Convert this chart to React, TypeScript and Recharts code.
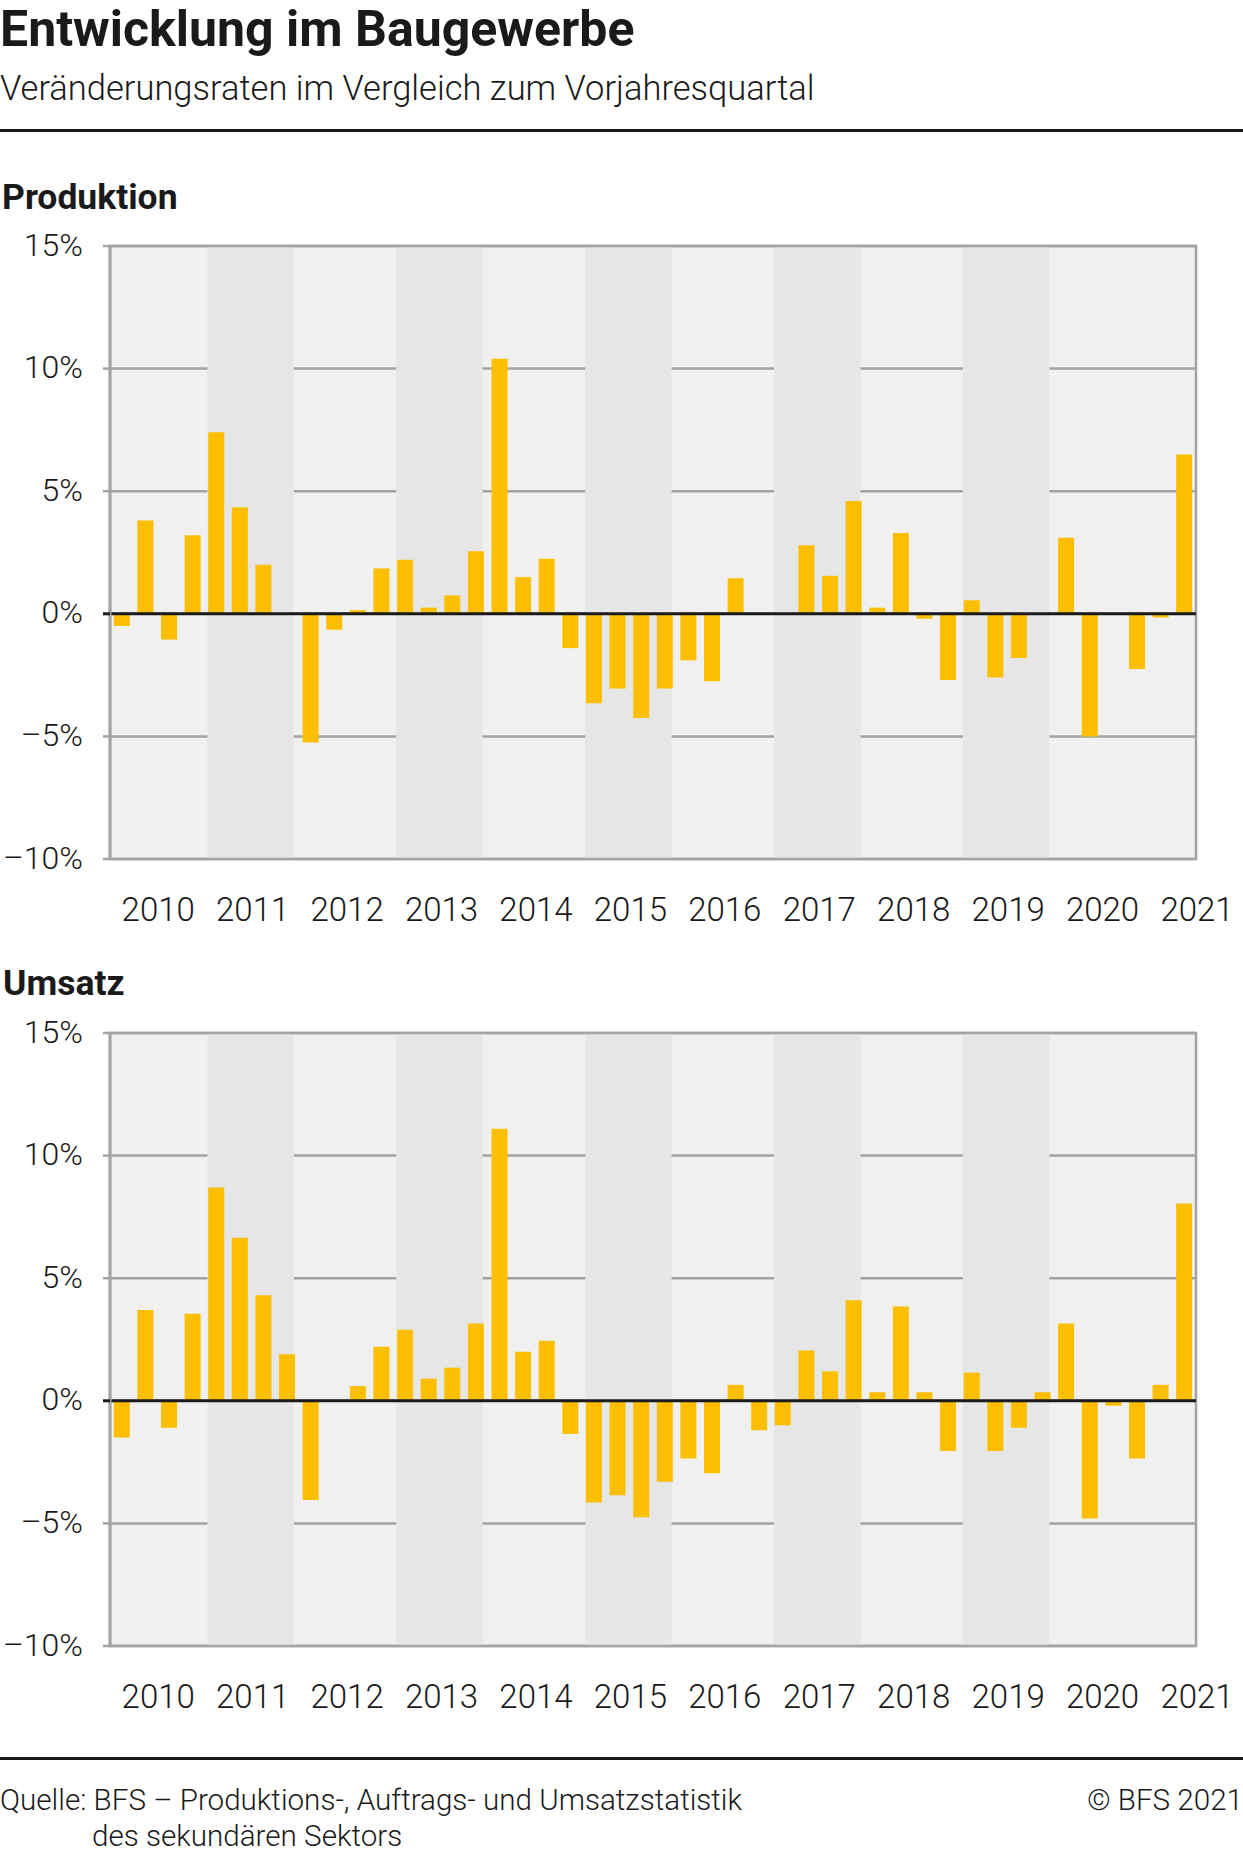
import React from 'react';
import {
  BarChart,
  Bar,
  XAxis,
  YAxis,
  CartesianGrid,
  ReferenceArea,
  ReferenceLine,
} from 'recharts';

// Quarterly change vs. same quarter of the previous year, 2010 Q1 – 2021 Q2
const years = ['2010', '2011', '2012', '2013', '2014', '2015', '2016', '2017', '2018', '2019', '2020', '2021'];
const quarterNames = ['Q1', 'Q2', 'Q3', 'Q4'];
const quarters = years.flatMap((y) => quarterNames.map((q) => `${y} ${q}`)).slice(0, 46);

// years drawn with the darker background band
const shadedYears = ['2011', '2013', '2015', '2017', '2019', '2021'];

const yTicks = [-10, -5, 0, 5, 10, 15];

const produktion = [
  -0.5, 3.8, -1.05, 3.2,
  7.4, 4.35, 2.0, 0,
  -5.25, -0.65, 0.15, 1.85,
  2.2, 0.25, 0.75, 2.55,
  10.4, 1.5, 2.25, -1.4,
  -3.65, -3.05, -4.25, -3.05,
  -1.9, -2.75, 1.45, 0,
  0, 2.8, 1.55, 4.6,
  0.25, 3.3, -0.2, -2.7,
  0.55, -2.6, -1.8, 0,
  3.1, -5.0, 0, -2.25,
  -0.15, 6.5,
];

const umsatz = [
  -1.5, 3.7, -1.1, 3.55,
  8.7, 6.65, 4.3, 1.9,
  -4.05, 0, 0.6, 2.2,
  2.9, 0.9, 1.35, 3.15,
  11.1, 2.0, 2.45, -1.35,
  -4.15, -3.85, -4.75, -3.3,
  -2.35, -2.95, 0.65, -1.2,
  -1.0, 2.05, 1.2, 4.1,
  0.35, 3.85, 0.35, -2.05,
  1.15, -2.05, -1.1, 0.35,
  3.15, -4.8, -0.2, -2.35,
  0.65, 8.05,
];

const FONT = 'Roboto, "Noto Sans", sans-serif';
const INK = '#1a1a1a';
const GRID = '#a3a3a3';
const BAR = '#fbbf00';

function PctTick(props: any) {
  const { x, y, payload } = props;
  const v = payload.value as number;
  const label = v < 0 ? `\u2013${Math.abs(v)}%` : `${v}%`;
  return (
    <g>
      <line
        x1={x - 7}
        x2={x}
        y1={y}
        y2={y}
        stroke={v === 0 ? INK : GRID}
        strokeWidth={v === 0 ? 3 : 2.5}
      />
      <text
        x={x - 27}
        y={y}
        dy="0.3em"
        textAnchor="end"
        fontFamily={FONT}
        fontWeight={300}
        fontSize={32}
        fill={INK}
      >
        {label}
      </text>
    </g>
  );
}

function YearTick(props: any) {
  const { x, y, payload } = props;
  const [year, q] = String(payload.value).split(' ');
  if (q !== 'Q2') return null;
  const half = payload.offset ?? 11.8;
  return (
    <text
      x={x + half + 1}
      y={y + 62}
      textAnchor="middle"
      fontFamily={FONT}
      fontWeight={300}
      fontSize={33}
      fill={INK}
    >
      {year}
    </text>
  );
}

// darker year band, slightly narrower than its four quarter slots
function Band(props: any) {
  const { x, y, width, height, last } = props;
  const w = last ? width - 3 : width - 8;
  return <rect x={x + 3} y={y} width={Math.max(0, w)} height={height} fill="#e6e6e6" />;
}

function QuarterChart({ values }: { values: number[] }) {
  const rows = quarters.map((q, i) => ({ q, v: values[i] }));

  return (
    <BarChart
      width={1243}
      height={729}
      data={rows}
      margin={{ top: 36, right: 47, bottom: 0, left: 0 }}
      barCategoryGap="16%"
    >
      <CartesianGrid
        vertical={false}
        stroke={GRID}
        strokeWidth={2.5}
        fill="#f0f0f0"
        fillOpacity={1}
      />
      {shadedYears.map((y) => {
        const qs = quarters.filter((q) => q.startsWith(y));
        const last = qs[qs.length - 1] === quarters[quarters.length - 1];
        return (
          <ReferenceArea
            key={y}
            x1={qs[0]}
            x2={qs[qs.length - 1]}
            y1={-10}
            y2={15}
            shape={<Band last={last} />}
          />
        );
      })}
      <XAxis
        dataKey="q"
        interval={0}
        tickSize={0}
        tickMargin={0}
        axisLine={false}
        tickLine={false}
        tick={<YearTick />}
        height={80}
      />
      <YAxis
        domain={[-10, 15]}
        ticks={yTicks}
        width={110}
        tickSize={0}
        tickMargin={0}
        tickLine={false}
        axisLine={{ stroke: GRID, strokeWidth: 3 }}
        tick={<PctTick />}
      />
      <Bar dataKey="v" fill={BAR} isAnimationActive={false} />
      <ReferenceArea y1={-10} y2={15} fill="none" stroke={GRID} strokeWidth={2.5} />
      <ReferenceLine y={0} stroke={INK} strokeWidth={3} />
    </BarChart>
  );
}

const abs = (top: number, extra: React.CSSProperties = {}): React.CSSProperties => ({
  position: 'absolute',
  top,
  left: 0,
  fontFamily: FONT,
  color: INK,
  whiteSpace: 'nowrap',
  ...extra,
});

export default function App() {
  return (
    <div style={{ position: 'absolute', left: 0, top: 0, width: 1243, height: 1852, background: '#fff', overflow: 'hidden' }}>
      <div style={abs(0, { fontSize: 50, lineHeight: '59px', fontWeight: 700 })}>Entwicklung im Baugewerbe</div>
      <div style={abs(71, { fontSize: 34.5, lineHeight: '35px', fontWeight: 300 })}>
        Veränderungsraten im Vergleich zum Vorjahresquartal
      </div>
      <div style={{ position: 'absolute', top: 129, left: 0, width: 1243, height: 3, background: INK }} />

      <div style={abs(179, { fontSize: 35.5, lineHeight: '36px', fontWeight: 700, left: 2 })}>Produktion</div>
      <div style={{ position: 'absolute', top: 210, left: 0 }}>
        <QuarterChart values={produktion} />
      </div>

      <div style={abs(965, { fontSize: 35.5, lineHeight: '36px', fontWeight: 700, left: 3 })}>Umsatz</div>
      <div style={{ position: 'absolute', top: 997, left: 0 }}>
        <QuarterChart values={umsatz} />
      </div>

      <div style={{ position: 'absolute', top: 1757, left: 0, width: 1243, height: 3, background: INK }} />
      <div style={abs(1785, { fontSize: 29.6, lineHeight: '30px', fontWeight: 300 })}>
        Quelle: BFS – Produktions-, Auftrags- und Umsatzstatistik
      </div>
      <div style={abs(1821, { fontSize: 29.6, lineHeight: '30px', fontWeight: 300, paddingLeft: 92 })}>
        des sekundären Sektors
      </div>
      <div style={abs(1785, { left: 'auto', right: 0, fontSize: 29.6, lineHeight: '30px', fontWeight: 300 })}>
        © BFS 2021
      </div>
    </div>
  );
}
